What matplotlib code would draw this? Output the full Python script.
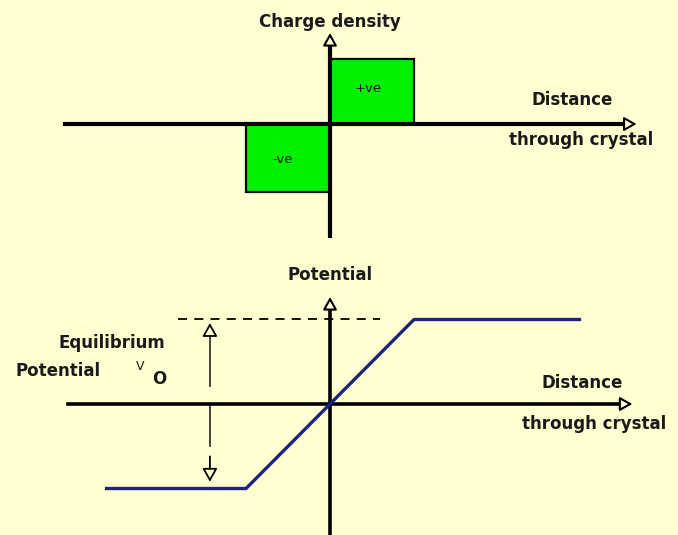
import matplotlib
matplotlib.use('Agg')
import matplotlib.pyplot as plt

# charge density in the depletion region (units of distance: edge of depletion = 1)
region_left = [-1.0, 0.0]
region_width = [1.0, 1.0]
charge = [-1.05, 1.0]
charge_labels = ['-ve', '+ve']

# potential across the junction (normalised so the step equals V0 = 1)
pot_x = [-2.68, -1.0, 1.0, 2.99]
pot_v = [-0.5, -0.5, 0.5, 0.5]
v0 = 0.5  # top level of the potential, where the dashed line sits

bg = '#ffffd2'
ink = '#1a1a1a'
font = dict(family='DejaVu Sans', weight='bold', color=ink)
fs = 12

fig = plt.figure(figsize=(6.78, 5.35), dpi=100, facecolor=bg)
ax1 = fig.add_axes([0, 1 - 260 / 535, 1, 260 / 535])
ax2 = fig.add_axes([0, 0, 1, 275 / 535])
for ax in (ax1, ax2):
    ax.set_facecolor(bg)
    ax.axis('off')

ax1.set_xlim(-3.929, 4.143)
ax1.set_ylim(-2.092, 1.908)
ax2.set_xlim(-3.929, 4.143)
ax2.set_ylim(-0.775, 0.852)


def arrow_head(ax, tip, tail, lw=1.5, hl=0.75, hw=0.42):
    ax.annotate('', xy=tip, xytext=tail,
                arrowprops=dict(arrowstyle=f'-|>,head_length={hl},head_width={hw}',
                                fc=bg, ec='black', lw=lw, shrinkA=0, shrinkB=0,
                                mutation_scale=10), zorder=5)


# ---- top: charge density ----
ax1.bar(region_left, charge, width=region_width, align='edge',
        color='#00f000', edgecolor='black', linewidth=1.6, zorder=1)
ax1.plot([-3.15, 3.55], [0, 0], color='black', lw=3, zorder=3)
arrow_head(ax1, (3.65, 0), (3.45, 0))
ax1.plot([0, 0], [-1.72, 1.25], color='black', lw=3, zorder=3)
arrow_head(ax1, (0, 1.40), (0, 1.20))

ax1.text(0, 1.57, 'Charge density', ha='center', va='center', fontsize=fs, **font)
ax1.text(0.45, 0.55, charge_labels[1], ha='center', va='center', fontsize=9.5,
         family='DejaVu Sans', color=ink)
ax1.text(-0.57, -0.54, charge_labels[0], ha='center', va='center', fontsize=9.5,
         family='DejaVu Sans', color=ink)
ax1.text(2.88, 0.37, 'Distance', ha='center', va='center', fontsize=fs, **font)
ax1.text(2.99, -0.25, 'through crystal', ha='center', va='center', fontsize=fs, **font)

# ---- bottom: potential ----
ax2.plot(pot_x, pot_v, color='#1c2480', lw=2.4, zorder=4, solid_capstyle='butt')
ax2.plot([-3.12, 3.50], [0, 0], color='black', lw=2.6, zorder=3)
arrow_head(ax2, (3.60, 0), (3.40, 0))
ax2.plot([0, 0], [-0.80, 0.56], color='black', lw=2.6, zorder=3)
arrow_head(ax2, (0, 0.633), (0, 0.55))

ax2.plot([-1.81, 0.60], [v0, v0], color='black', lw=1.3, dashes=(5, 4), zorder=2)

# V0 double arrow
ax2.plot([-1.43, -1.43], [0.107, 0.42], color='#333333', lw=1.3)
arrow_head(ax2, (-1.43, 0.479), (-1.43, 0.40), lw=1.3, hl=0.8, hw=0.45)
ax2.plot([-1.43, -1.43], [-0.01, -0.25], color='#333333', lw=1.3)
arrow_head(ax2, (-1.43, -0.46), (-1.43, -0.31), lw=1.3, hl=0.8, hw=0.45)

ax2.text(0, 0.763, 'Potential', ha='center', va='center', fontsize=fs, **font)
ax2.text(-2.60, 0.361, 'Equilibrium', ha='center', va='center', fontsize=fs, **font)
ax2.text(-3.75, 0.195, 'Potential', ha='left', va='center', fontsize=fs, **font)
ax2.text(-2.26, 0.222, 'V', ha='center', va='center', fontsize=9, family='DejaVu Sans', color=ink)
ax2.text(-2.03, 0.15, 'O', ha='center', va='center', fontsize=12, **font)
ax2.text(3.0, 0.124, 'Distance', ha='center', va='center', fontsize=fs, **font)
ax2.text(3.15, -0.118, 'through crystal', ha='center', va='center', fontsize=fs, **font)

fig.savefig('out.png', dpi=100, facecolor=bg)
